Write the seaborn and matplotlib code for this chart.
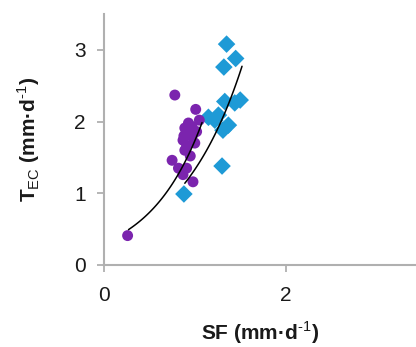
import numpy as np
import pandas as pd
import matplotlib
matplotlib.use("Agg")
import matplotlib.pyplot as plt
import seaborn as sns

# --- data ---
purple_sf = [0.26, 0.78, 1.01, 0.93, 0.89, 0.97, 0.91, 0.97, 0.87, 0.91, 0.89,
             1.02, 1.00, 0.75, 0.82, 0.91, 0.98, 0.87, 1.05, 0.95, 0.93, 0.88]
purple_tec = [0.41, 2.37, 2.17, 1.98, 1.91, 1.93, 1.84, 1.79, 1.74, 1.67, 1.60,
              1.86, 1.70, 1.46, 1.35, 1.35, 1.16, 1.26, 2.02, 1.52, 1.88, 1.80]

blue_sf = [1.35, 1.45, 1.32, 1.50, 1.33, 1.44, 1.15, 1.26, 1.37, 1.31, 1.30, 0.88, 1.22]
blue_tec = [3.08, 2.88, 2.76, 2.30, 2.28, 2.26, 2.06, 2.09, 1.95, 1.88, 1.38, 0.99, 2.02]

# exponential trend lines y = a*exp(b*x), and their x ranges
purple_fit = (0.31, 1.72)
purple_range = (0.27, 1.08)
blue_fit = (0.325, 1.41)
blue_range = (0.89, 1.52)

xticks = [0, 2]
yticks = [0, 1, 2, 3]

sns.set_theme(style="white")
plt.rcParams['font.family'] = ['Liberation Sans', 'DejaVu Sans']
plt.rcParams['mathtext.fontset'] = 'custom'
plt.rcParams['mathtext.rm'] = 'Liberation Sans'
plt.rcParams['mathtext.bf'] = 'Liberation Sans:bold'
plt.rcParams['mathtext.fallback'] = 'stixsans'

fig = plt.figure(figsize=(4.16, 3.47), dpi=100)
ax = fig.add_axes([104/416, 1-265/347, 312/416, 251/347])

dfp = pd.DataFrame({"SF": purple_sf, "TEC": purple_tec})
dfb = pd.DataFrame({"SF": blue_sf, "TEC": blue_tec})

sns.scatterplot(data=dfp, x="SF", y="TEC", ax=ax, color="#7B24AE", marker="o",
                s=62, edgecolor="none", zorder=3)
sns.scatterplot(data=dfb, x="SF", y="TEC", ax=ax, color="#1E9AD6", marker="D",
                s=80, edgecolor="none", zorder=2)

for (a, b), (x0, x1) in [(purple_fit, purple_range), (blue_fit, blue_range)]:
    xs = np.linspace(x0, x1, 60)
    sns.lineplot(x=xs, y=a*np.exp(b*xs), ax=ax, color="black", lw=1.1, zorder=5)

ax.set_xlim(0, 312/90.8)
ax.set_ylim(0, 3.5)
ax.set_xticks(xticks)
ax.set_yticks(yticks)

for s in ["top", "right"]:
    ax.spines[s].set_visible(False)
for s in ["left", "bottom"]:
    ax.spines[s].set_color("#b0b0b0")
    ax.spines[s].set_linewidth(1.5)

ax.tick_params(axis="both", which="major", length=5, width=1.3, color="#b0b0b0",
               labelsize=15, labelcolor="#1a1a1a", direction="out")
ax.tick_params(axis="x", pad=10, bottom=True)
ax.tick_params(axis="y", pad=8, left=True)

ax.set_xlabel(r"SF (mm·d$^{\rm \text{-}1}$)", fontsize=15, fontweight="bold", color="#1a1a1a")
ax.set_ylabel(r"T$_{\rm EC}$ (mm·d$^{\rm \text{-}1}$)", fontsize=15, fontweight="bold",
              color="#1a1a1a")
ax.xaxis.set_label_coords(0.5, -0.215)
ax.yaxis.set_label_coords(-0.20, 0.5)

fig.savefig("out.png", dpi=100)
